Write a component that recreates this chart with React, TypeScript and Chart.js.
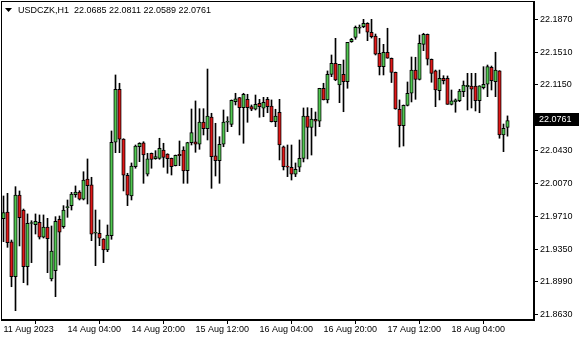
import React, { useEffect, useRef } from 'react';
import { Chart, registerables } from 'chart.js';
Chart.register(...registerables);

const symbolTitle = 'USDCZK,H1';

const opens = [
  21.9684, 21.9757, 21.9429, 21.9048, 21.9944, 21.9779, 21.9158, 21.9631, 21.9618, 21.9645,
  21.9480, 21.9593, 21.9023, 21.9114, 21.9677, 21.9596, 21.9805, 21.9827, 21.9947, 21.9977,
  21.9897, 22.0119, 22.0054, 21.9524, 21.9524, 21.9461, 21.9341, 21.9498, 22.0522, 22.1103,
  22.0558, 22.0160, 21.9933, 22.0254, 22.0473, 22.0517, 22.0171, 22.0401, 22.0342, 22.0346,
  22.0437, 22.0393, 22.0346, 22.0265, 22.0390, 22.0437, 22.0210, 22.0517, 22.0528, 22.0500,
  22.0744, 22.0671, 22.0799, 22.0372, 22.0320, 22.0500, 22.0741, 22.0719, 22.0967, 22.1011,
  22.0901, 22.0993, 22.0912, 22.0884, 22.0949, 22.0895, 22.0993, 22.0920, 22.0748, 22.0851,
  22.0473, 22.0262, 22.0248, 22.0171, 22.0248, 22.0346, 22.0810, 22.0686, 22.0774, 22.0752,
  22.1114, 22.0986, 22.1267, 22.1388, 22.1150, 22.1267, 22.1186, 22.1625, 22.1673, 22.1772,
  22.1789, 22.1826, 22.1728, 22.1687, 22.1498, 22.1351, 22.1509, 22.1443, 22.1289, 22.0884,
  22.0704, 22.0927, 22.1059, 22.1314, 22.1212, 22.1596, 22.1706, 22.1432, 22.1304, 22.1088,
  22.1223, 22.1223, 22.0938, 22.0967, 22.0978, 22.1077, 22.1131, 22.1139, 22.1139, 22.0978,
  22.1120, 22.1158, 22.1344, 22.1186, 22.1304, 22.0602, 22.0685,
];
const highs = [
  21.9933, 21.9962, 21.9450, 22.0035, 21.9988, 21.9790, 21.9736, 21.9662, 21.9736, 21.9725,
  21.9725, 21.9688, 21.9604, 21.9706, 21.9714, 21.9827, 21.9889, 21.9973, 22.0043, 21.9991,
  22.0199, 22.0339, 22.0138, 21.9779, 21.9670, 21.9465, 21.9615, 22.0646, 22.1260, 22.1169,
  22.0561, 22.0182, 22.0295, 22.0492, 22.0517, 22.0528, 22.0401, 22.0404, 22.0430, 22.0566,
  22.0511, 22.0396, 22.0349, 22.0382, 22.0536, 22.0473, 22.0522, 22.0887, 22.0975, 22.0890,
  22.0890, 22.1325, 22.0840, 22.0730, 22.0583, 22.0876, 22.0802, 22.0986, 22.1059, 22.1014,
  22.1059, 22.1048, 22.0931, 22.1040, 22.0993, 22.1015, 22.1015, 22.0986, 22.0884, 22.0993,
  22.0481, 22.0492, 22.0492, 22.0295, 22.0547, 22.0898, 22.0901, 22.0895, 22.0854, 22.1114,
  22.1169, 22.1304, 22.1479, 22.1662, 22.1377, 22.1424, 22.1618, 22.1662, 22.1797, 22.1808,
  22.1870, 22.1833, 22.1870, 22.1709, 22.1662, 22.1596, 22.1772, 22.1446, 22.1292, 22.0986,
  22.0931, 22.1183, 22.1457, 22.1454, 22.1698, 22.1717, 22.1709, 22.1435, 22.1314, 22.1314,
  22.1252, 22.1249, 22.1095, 22.0997, 22.1103, 22.1194, 22.1278, 22.1278, 22.1278, 22.1142,
  22.1351, 22.1369, 22.1358, 22.1509, 22.1307, 22.0722, 22.0811,
];
const lows = [
  21.9432, 21.9370, 21.8938, 21.8675, 21.9385, 21.8982, 21.8957, 21.9202, 21.9516, 21.9461,
  21.9472, 21.9092, 21.9001, 21.8829, 21.9176, 21.9579, 21.9699, 21.9779, 21.9919, 21.9889,
  21.9889, 21.9845, 21.9443, 21.9169, 21.9388, 21.9202, 21.9322, 21.9458, 22.0408, 22.0408,
  21.9988, 21.9827, 21.9889, 22.0237, 22.0309, 22.0072, 22.0152, 22.0237, 22.0335, 22.0335,
  22.0248, 22.0182, 22.0163, 22.0262, 22.0265, 22.0072, 22.0072, 22.0492, 22.0412, 22.0445,
  22.0602, 22.0547, 22.0017, 22.0152, 22.0072, 22.0473, 22.0638, 22.0693, 22.0931, 22.0602,
  22.0511, 22.0741, 22.0868, 22.0876, 22.0796, 22.0802, 22.0846, 22.0744, 22.0693, 22.0328,
  22.0218, 22.0145, 22.0108, 22.0145, 22.0199, 22.0306, 22.0339, 22.0382, 22.0591, 22.0693,
  22.0986, 22.0953, 22.1241, 22.1197, 22.0956, 22.0857, 22.1114, 22.1618, 22.1651, 22.1717,
  22.1778, 22.1636, 22.1665, 22.1479, 22.1260, 22.1260, 22.1443, 22.1177, 22.0884, 22.0470,
  22.0481, 22.0920, 22.0964, 22.0993, 22.1205, 22.1526, 22.1369, 22.1180, 22.0912, 22.0986,
  22.1161, 22.0938, 22.0931, 22.0851, 22.0967, 22.1022, 22.0876, 22.0898, 22.0865, 22.0846,
  22.1106, 22.1022, 22.1095, 22.1022, 22.0566, 22.0419, 22.0589,
];
const closes = [
  21.9750, 21.9421, 21.9048, 21.9944, 21.9695, 21.9158, 21.9634, 21.9637, 21.9655, 21.9480,
  21.9593, 21.9465, 21.9330, 21.9655, 21.9535, 21.9779, 21.9812, 21.9955, 21.9977, 21.9897,
  22.0108, 22.0046, 21.9513, 21.9527, 21.9469, 21.9341, 21.9505, 22.0522, 22.1103, 22.0555,
  22.0160, 21.9941, 22.0262, 22.0481, 22.0511, 22.0382, 22.0339, 22.0335, 22.0364, 22.0456,
  22.0357, 22.0342, 22.0254, 22.0380, 22.0375, 22.0207, 22.0518, 22.0627, 22.0500, 22.0744,
  22.0671, 22.0810, 22.0364, 22.0320, 22.0500, 22.0744, 22.0744, 22.0983, 22.0997, 22.0901,
  22.1048, 22.0901, 22.0884, 22.0938, 22.0912, 22.0960, 22.0912, 22.0748, 22.0810, 22.0492,
  22.0254, 22.0248, 22.0171, 22.0226, 22.0346, 22.0810, 22.0686, 22.0777, 22.0752, 22.1114,
  22.0986, 22.1267, 22.1388, 22.1205, 22.1377, 22.1186, 22.1618, 22.1651, 22.1783, 22.1783,
  22.1826, 22.1728, 22.1680, 22.1487, 22.1351, 22.1509, 22.1443, 22.1289, 22.0887, 22.0704,
  22.0927, 22.1059, 22.1314, 22.1212, 22.1607, 22.1706, 22.1432, 22.1278, 22.1095, 22.1223,
  22.1197, 22.0938, 22.0975, 22.0986, 22.1084, 22.1150, 22.1147, 22.1103, 22.0978, 22.1142,
  22.1158, 22.1351, 22.1197, 22.1314, 22.0602, 22.0675, 22.0761,
];

const xTickBars = [0, 16, 32, 48, 64, 80, 96, 112];
const xTickLabels = [
  '11 Aug 2023', '14 Aug 04:00', '14 Aug 20:00', '15 Aug 12:00',
  '16 Aug 04:00', '16 Aug 20:00', '17 Aug 12:00', '18 Aug 04:00',
];
const yTicks = [21.863, 21.899, 21.935, 21.971, 22.007, 22.043, 22.115, 22.151, 22.187];

const BULL = '#50c850';
const BEAR = '#e01818';
const FONT = 'Liberation Sans';

export default function App() {
  const ref = useRef<HTMLCanvasElement>(null);
  useEffect(() => {
    const canvas = ref.current;
    if (!canvas) return;
    const idx = opens.map((_, i) => i);
    const bodies = idx.map((i) => ({ x: i, y: [opens[i], closes[i]] }));
    const wicks = idx.map((i) => ({ x: i, y: [lows[i], highs[i]] }));
    const fills = idx.map((i) => (closes[i] >= opens[i] ? BULL : BEAR));
    const last = opens.length - 1;

    const framePlugin = {
      id: 'mtFrame',
      afterDraw(chart: any) {
        const { ctx, chartArea: a } = chart;
        ctx.save();
        ctx.strokeStyle = '#000';
        ctx.lineWidth = 1;
        ctx.strokeRect(a.left + 0.5, a.top + 0.5, a.right - a.left - 1, a.bottom - a.top - 1);
        // header
        ctx.fillStyle = '#000';
        ctx.beginPath();
        ctx.moveTo(5, 8);
        ctx.lineTo(12, 8);
        ctx.lineTo(8.5, 12);
        ctx.closePath();
        ctx.fill();
        ctx.font = `9px "${FONT}"`;
        ctx.textBaseline = 'middle';
        ctx.textAlign = 'left';
        const head = `${symbolTitle}  ${opens[last].toFixed(4)} ${highs[last].toFixed(4)} ${lows[last].toFixed(4)} ${closes[last].toFixed(4)}`;
        ctx.fillText(head, 18, 10.5);
        // current price label
        const y = chart.scales.y.getPixelForValue(closes[last]);
        const py = Math.round(y);
        ctx.fillRect(535, py - 7, 44, 13);
        ctx.fillStyle = '#fff';
        ctx.fillText(closes[last].toFixed(4), 539, py);
        ctx.restore();
      },
    };

    const chart = new Chart(canvas, {
      type: 'bar',
      data: {
        datasets: [
          {
            label: 'body',
            data: bodies as any,
            backgroundColor: fills,
            borderColor: '#000',
            borderWidth: 1,
            borderSkipped: false,
            barThickness: 3.5,
            minBarLength: 1,
            grouped: false,
            order: 1,
          },
          {
            label: 'wick',
            data: wicks as any,
            backgroundColor: '#000',
            borderWidth: 0,
            barThickness: 1,
            minBarLength: 1,
            grouped: false,
            order: 2,
          },
        ],
      },
      options: {
        animation: false,
        responsive: false,
        maintainAspectRatio: false,
        layout: { autoPadding: false, padding: { left: 1, top: 1, right: 0, bottom: 0 } },
        plugins: { legend: { display: false }, tooltip: { enabled: false }, title: { display: false } },
        scales: {
          x: {
            type: 'linear',
            offset: false,
            min: -0.625,
            max: 132.625,
            grid: { drawOnChartArea: false, drawTicks: true, tickLength: 4, color: '#000' },
            border: { display: true, color: '#000' },
            ticks: {
              autoSkip: false,
              maxRotation: 0,
              align: 'start',
              padding: 0,
              color: '#000',
              font: { family: FONT, size: 9 },
              callback: (v: any) => {
                const k = xTickBars.indexOf(Number(v));
                return k >= 0 ? xTickLabels[k] : '';
              },
            },
            afterBuildTicks: (s: any) => {
              s.ticks = xTickBars.map((v) => ({ value: v }));
            },
            afterFit: (s: any) => {
              s.height = 20;
              s.paddingLeft = 0;
              s.paddingRight = 0;
              s.paddingTop = 0;
              s.paddingBottom = 0;
            },
          },
          y: {
            type: 'linear',
            position: 'right',
            min: 21.8573,
            max: 22.2071,
            grid: { drawOnChartArea: false, drawTicks: true, tickLength: 4, color: '#000' },
            border: { display: true, color: '#000' },
            ticks: {
              autoSkip: false,
              padding: 2,
              color: '#000',
              font: { family: FONT, size: 9 },
              callback: (v: any) => Number(v).toFixed(4),
            },
            afterBuildTicks: (s: any) => {
              s.ticks = yTicks.map((v) => ({ value: v }));
            },
            afterFit: (s: any) => {
              s.width = 46;
              s.paddingTop = 0;
              s.paddingBottom = 0;
              s.paddingLeft = 0;
              s.paddingRight = 0;
            },
          },
        },
      },
      plugins: [framePlugin],
    } as any);
    return () => chart.destroy();
  }, []);

  return (
    <div style={{ position: 'fixed', left: 0, top: 0, width: 580, height: 340, background: '#fff' }}>
      <canvas ref={ref} width={580} height={340} style={{ display: 'block' }} />
    </div>
  );
}
